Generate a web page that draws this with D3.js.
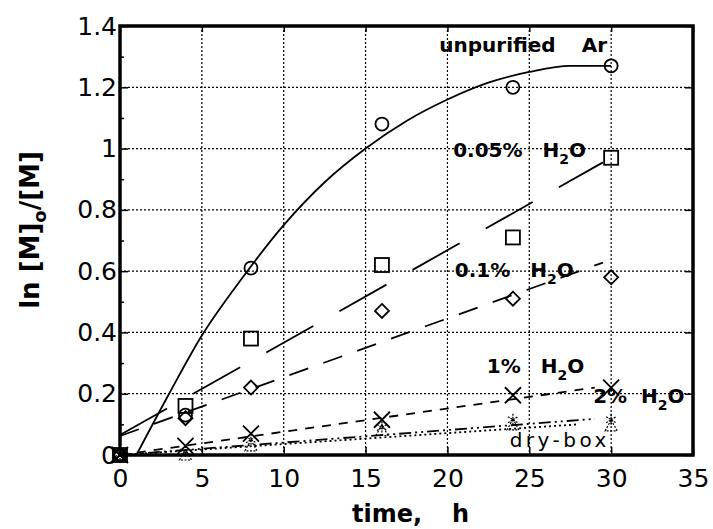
<!DOCTYPE html>
<html>
<head>
<meta charset="utf-8">
<script src="https://cdn.jsdelivr.net/npm/d3@7"></script>
<style>
  body { margin: 0; background: #fff; }
  svg { font-family: "DejaVu Sans", Verdana, sans-serif; }
</style>
</head>
<body>
<div id="chart"></div>
<script>
// times of sampling (h)
const times = [0, 4, 8, 16, 24, 30];

// measured ln[M]o/[M]
const unpurified = [0, 0.13, 0.61, 1.08, 1.2, 1.27];
const water005 = [0, 0.16, 0.38, 0.62, 0.71, 0.97];
const water01 = [0, 0.12, 0.22, 0.47, 0.51, 0.58];
const water1 = [0, 0.03, 0.07, 0.115, 0.195, 0.22];
const water2 = [0, 0.01, 0.05, 0.09, 0.115, 0.115];
const drybox = [0, 0.0, 0.03, 0.08, 0.098, 0.095];

// fitted curves
const fitUnpurT = [1, 3, 5, 7.5, 10, 12.5, 15, 17.5, 20, 22.5, 25, 27.5, 30];
const fitUnpurV = [0, 0.2, 0.39, 0.58, 0.75, 0.89, 1.0, 1.09, 1.16, 1.215, 1.25, 1.27, 1.27];
const fitLineT = [0, 29.5];
const fit005V = [0.065, 0.955];
const fit01T = [0, 29.5];
const fit01V = [0.062, 0.628];
const fit1T = [0, 29];
const fit1V = [0, 0.22];
const fit2T = [0, 29];
const fit2V = [0, 0.118];
const fitDryT = [0, 28];
const fitDryV = [0, 0.1];

const xTicks = [0, 5, 10, 15, 20, 25, 30, 35];
const yTicks = [0, 0.2, 0.4, 0.6, 0.8, 1, 1.2, 1.4];

const W = 713, H = 529;
const margin = {top: 26, right: 20, bottom: 74, left: 120};
const width = W - margin.left - margin.right;
const height = H - margin.top - margin.bottom;

const svg = d3.select("#chart").append("svg")
    .attr("width", W)
    .attr("height", H);

const g = svg.append("g")
    .attr("transform", "translate(" + margin.left + "," + margin.top + ")");

const x = d3.scaleLinear().domain([0, 35]).range([0, width]);
const y = d3.scaleLinear().domain([0, 1.4]).range([height, 0]);

// grid
g.selectAll(".vgrid")
    .data(xTicks.slice(1, -1))
    .enter().append("line")
    .attr("x1", d => x(d)).attr("x2", d => x(d))
    .attr("y1", 0).attr("y2", height)
    .attr("stroke", "#000").attr("stroke-width", 1.2)
    .attr("stroke-dasharray", "2,2");
g.selectAll(".hgrid")
    .data(yTicks.slice(1, -1))
    .enter().append("line")
    .attr("y1", d => y(d)).attr("y2", d => y(d))
    .attr("x1", 0).attr("x2", width)
    .attr("stroke", "#000").attr("stroke-width", 1.2)
    .attr("stroke-dasharray", "2,2");

// axes
const xAxis = g.append("g")
    .attr("transform", "translate(0," + height + ")")
    .call(d3.axisBottom(x).tickValues(xTicks).tickSizeInner(-8).tickSizeOuter(0).tickPadding(14));
const yAxis = g.append("g")
    .call(d3.axisLeft(y).tickValues(yTicks).tickSizeInner(-8).tickSizeOuter(0).tickPadding(3)
        .tickFormat(d => d3.format("")(+d.toFixed(1))));
g.append("g")
    .call(d3.axisLeft(y).tickValues(d3.range(1, 14, 2).map(d => d / 10)).tickSize(-4).tickFormat(""));
g.append("g")
    .attr("transform", "translate(" + width + ",0)")
    .call(d3.axisRight(y).tickValues(yTicks).tickSize(-8).tickFormat(""));
g.append("g")
    .call(d3.axisTop(x).tickValues(xTicks).tickSize(-6).tickFormat(""));

[xAxis, yAxis].forEach(a => a.selectAll("text")
    .attr("font-size", 25).attr("fill", "#000")
    .attr("font-family", "DejaVu Sans, sans-serif"));
g.selectAll(".domain").remove();
g.selectAll(".tick line").attr("stroke", "#000").attr("stroke-width", 1.5);

// frame
g.append("rect")
    .attr("width", width).attr("height", height)
    .attr("fill", "none").attr("stroke", "#000").attr("stroke-width", 3.5);

// fitted lines
const line = d3.line().x(d => x(d[0])).y(d => y(d[1]));
function fit(ts, vs, dash, curve) {
    g.append("path")
        .datum(ts.map((t, i) => [t, vs[i]]))
        .attr("d", line.curve(curve || d3.curveLinear))
        .attr("fill", "none").attr("stroke", "#000")
        .attr("stroke-width", 1.8)
        .attr("stroke-dasharray", dash);
}
fit(fitUnpurT, fitUnpurV, null, d3.curveMonotoneX);
fit(fitLineT, fit005V, "54,30");
fit(fit01T, fit01V, "20,16");
fit(fit1T, fit1V, "9,8");
fit(fit2T, fit2V, "12,4,2,4,2,4");
fit(fitDryT, fitDryV, "2,3");

// markers
function pts(vals) { return times.map((t, i) => [t, vals[i]]); }
const mk = g.append("g").attr("fill", "none").attr("stroke", "#000").attr("stroke-width", 1.8);

mk.selectAll(".circ").data(pts(unpurified)).enter().append("circle")
    .attr("cx", d => x(d[0])).attr("cy", d => y(d[1])).attr("r", 6.5);
mk.selectAll(".sq").data(pts(water005)).enter().append("rect")
    .attr("x", d => x(d[0]) - 7).attr("y", d => y(d[1]) - 7)
    .attr("width", 14).attr("height", 14);
mk.selectAll(".dia").data(pts(water01)).enter().append("path")
    .attr("transform", d => "translate(" + x(d[0]) + "," + y(d[1]) + ")")
    .attr("d", "M0,-7L7,0L0,7L-7,0Z");
mk.selectAll(".cross").data(pts(water1)).enter().append("path")
    .attr("transform", d => "translate(" + x(d[0]) + "," + y(d[1]) + ")")
    .attr("d", "M-8,-8L8,8M-8,8L8,-8");
mk.selectAll(".star").data(pts(water2)).enter().append("path")
    .attr("transform", d => "translate(" + x(d[0]) + "," + y(d[1]) + ")")
    .attr("stroke-width", 1.2).attr("stroke-dasharray", "2,1")
    .attr("d", "M0,-6L0,6M-5,-3L5,3M-5,3L5,-3");
mk.selectAll(".tri").data(pts(drybox)).enter().append("path")
    .attr("transform", d => "translate(" + x(d[0]) + "," + y(d[1]) + ")")
    .attr("stroke-width", 1.2).attr("stroke-dasharray", "2,1.5")
    .attr("d", "M0,-6L6,5L-6,5Z");

// series labels
function label(t, v, main, sub, tail, gap, bold) {
    const txt = g.append("text")
        .attr("x", x(t)).attr("y", y(v))
        .attr("font-size", 20)
        .attr("font-weight", bold ? "bold" : "normal");
    txt.append("tspan").text(main);
    if (sub !== null) {
        txt.append("tspan").attr("dx", gap).text("H");
        txt.append("tspan").attr("font-size", 14).attr("dy", 7).text(sub);
        txt.append("tspan").attr("dy", -7).text(tail);
    }
    return txt;
}
label(19.5, 1.315, "unpurified", null, null, 0, true)
    .append("tspan").attr("dx", 26).text("Ar");
label(20.35, 0.972, "0.05%", "2", "O", 20, true);
label(20.45, 0.58, "0.1%", "2", "O", 20, true);
label(22.4, 0.268, "1%", "2", "O", 20, true);
label(28.9, 0.17, "2%", "2", "O", 14, true);
label(23.8, 0.026, "dry-box", null, null, 0, false)
    .attr("letter-spacing", 3.5);

// axis titles
svg.append("text")
    .attr("x", 352).attr("y", 522)
    .attr("font-size", 24).attr("font-weight", "bold")
    .text("time,")
    .append("tspan").attr("dx", 30).text("h");

const yl = svg.append("text")
    .attr("transform", "translate(39,230) rotate(-90)")
    .attr("text-anchor", "middle")
    .attr("font-size", 26).attr("font-weight", "bold");
yl.append("tspan").text("ln  [M]");
yl.append("tspan").attr("font-size", 18).attr("dy", 7).text("o");
yl.append("tspan").attr("dy", -7).text("/[M]");
</script>
</body>
</html>
